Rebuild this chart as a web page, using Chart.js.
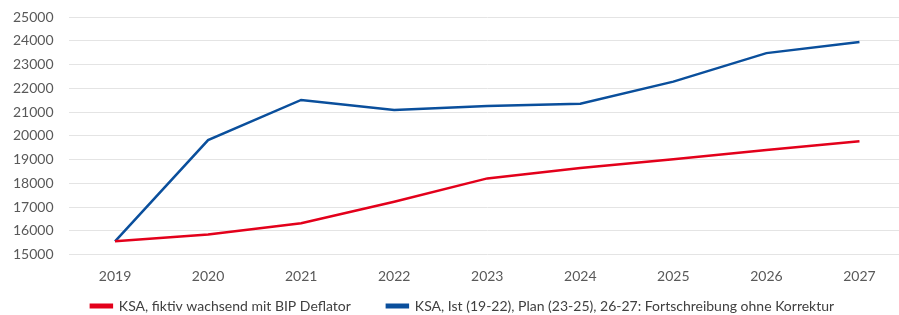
<!DOCTYPE html>
<html>
<head>
<meta charset="utf-8">
<script src="https://cdn.jsdelivr.net/npm/chart.js@4/dist/chart.umd.min.js"></script>
<style>
  html, body { margin: 0; padding: 0; background: #fff; overflow: hidden; }
  #wrap { width: 906px; height: 315px; }
</style>
</head>
<body>
<div id="wrap"><canvas id="c" width="906" height="315"></canvas></div>
<script>
const categories = ['2019', '2020', '2021', '2022', '2023', '2024', '2025', '2026', '2027'];
const ksaFiktiv = [15570, 15850, 16320, 17230, 18210, 18650, 19020, 19400, 19770];
const ksaIstPlan = [15560, 19820, 21510, 21090, 21260, 21350, 22280, 23480, 23950];
const seriesNames = [
  'KSA, fiktiv wachsend mit BIP Deflator',
  'KSA, Ist (19-22), Plan (23-25), 26-27: Fortschreibung ohne Korrektur'
];
const yMin = 15000, yMax = 25000, yStep = 1000;

const font = { family: 'Lato, "Open Sans", sans-serif', size: 14 };
const legendGap = 36;

// keep the wide horizontal gap between legend items without the vertical space it adds
const legendShift = {
  id: 'legendShift',
  afterLayout(chart) {
    const lg = chart.legend;
    if (!lg) return;
    lg.top = chart.height - 52;
    lg.bottom = chart.height;
    lg.height = lg.bottom - lg.top;
    lg.left += 3; lg.right += 3;
  }
};

new Chart(document.getElementById('c'), {
  type: 'line',
  data: {
    labels: categories,
    datasets: [
      { label: seriesNames[0], data: ksaFiktiv, borderColor: '#e3001b', backgroundColor: '#e3001b',
        borderWidth: 2.5, pointRadius: 0, tension: 0 },
      { label: seriesNames[1], data: ksaIstPlan, borderColor: '#0a4f9c', backgroundColor: '#0a4f9c',
        borderWidth: 2.5, pointRadius: 0, tension: 0 }
    ]
  },
  plugins: [legendShift],
  options: {
    responsive: false,
    animation: false,
    layout: { padding: { left: 13, top: 0, right: 0, bottom: 0 } },
    plugins: {
      legend: {
        position: 'bottom',
        maxHeight: 17.5,
        labels: { font: font, color: '#404040', boxWidth: 21, boxHeight: 2.5, padding: legendGap }
      },
      tooltip: { enabled: false }
    },
    scales: {
      x: {
        offset: true,
        grid: { display: false, drawTicks: false },
        border: { display: false },
        ticks: { font: font, color: '#595959', padding: 13 }
      },
      y: {
        min: yMin, max: yMax,
        grid: { color: '#e4e4e4', lineWidth: 1, drawTicks: false },
        border: { display: false },
        afterFit: s => { s.width = 55.5; s.paddingTop = 17; },
        ticks: { stepSize: yStep, autoSkip: false, font: font, color: '#595959', padding: 15,
                 callback: v => String(v) }
      }
    }
  }
});
</script>
</body>
</html>
